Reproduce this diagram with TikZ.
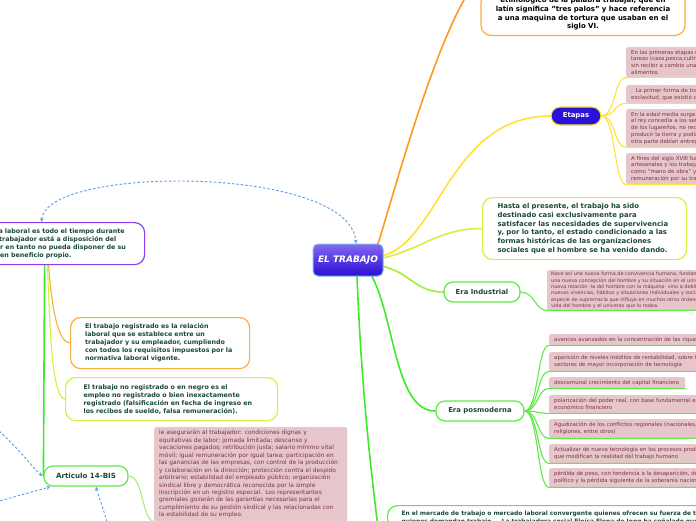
\documentclass[tikz,border=0pt]{standalone}
\usepackage{fontspec}
\setmainfont{DejaVu Sans}
\usetikzlibrary{calc,arrows.meta,backgrounds}
\definecolor{tdark}{HTML}{1B4A36}
\definecolor{pinkf}{HTML}{E6C6CB}
\definecolor{ptext}{HTML}{7A3646}
\definecolor{orng}{HTML}{FF9A1F}
\definecolor{orngb}{HTML}{FAAE3C}
\definecolor{yel}{HTML}{FFE233}
\definecolor{ygr}{HTML}{D2F240}
\definecolor{lime}{HTML}{A2EE3A}
\definecolor{grn}{HTML}{3EEB2A}
\definecolor{grnb}{HTML}{5EEB48}
\definecolor{purp}{HTML}{8B3FF0}
\definecolor{dblue}{HTML}{5A9CEE}
\definecolor{etafill}{HTML}{2B12D9}
\definecolor{ctrtop}{HTML}{8468F2}
\definecolor{ctrbot}{HTML}{2A0FD4}
\definecolor{ctrb}{HTML}{7DB8F0}
\definecolor{lgrn}{HTML}{A8F07A}
\begin{document}
\begin{tikzpicture}[x=1pt,y=-1pt,
 wbox/.style={draw, fill=white, rounded corners=10pt, line width=1.2pt, text=tdark, align=left, anchor=north west, inner ysep=0pt},
 lfont/.style={font=\bfseries\fontsize{6.35}{8}\selectfont},
 rfont/.style={font=\bfseries\fontsize{6.9}{8.7}\selectfont},
 pbox/.style={fill=pinkf, rounded corners=1.5pt, text=ptext, align=left, anchor=north west, inner ysep=0pt, inner xsep=5pt, font=\fontsize{5.4}{6.7}\selectfont},
 pill/.style={draw, fill=white, rounded corners=9pt, line width=1.2pt, text=tdark, font=\bfseries\fontsize{6.9}{8}\selectfont, inner sep=0pt},
 conn/.style={line width=1.6pt, line cap=round},
 subc/.style={line width=1.1pt, line cap=round},
 dsh/.style={dblue, line width=0.9pt, dash pattern=on 2.5pt off 2pt},
 tip/.tip={Stealth[length=4pt,width=3.6pt]},
]
\useasboundingbox (0,0) rectangle (696,520);

% central node
\node[draw=ctrb, line width=1pt, rounded corners=5pt, top color=ctrtop, bottom color=ctrbot,
  minimum width=70pt, minimum height=32pt, text=white, inner sep=0pt,
  font=\bfseries\itshape\fontsize{9}{10}\selectfont] (ctr) at (348,260) {EL TRABAJO};

% top box
\node[draw=orngb, fill=white, rounded corners=10pt, line width=1.2pt, align=center, text=black,
  text width=190pt, inner xsep=7pt, inner ysep=5pt, anchor=south,
  font=\bfseries\fontsize{7}{8.7}\selectfont] (top) at (583,36)
  {etimológico de la palabra trabajar, que en\\latín significa "tres palos" y hace referencia\\a una maquina de tortura que usaban en el\\siglo VI.};
\coordinate (topin) at (481,-25);

% Etapas
\node[pill, draw=yel, fill=etafill, text=white, minimum width=50pt, minimum height=18pt] (eta) at (576,116) {Etapas};
\node[pbox, minimum height=30pt, text width=150pt] (ea) at (626,47)
  {En las primeras etapas de la\\tareas (caza,pesca,cultivo\\sin recibir a cambio una\\alimentos.};
\node[pbox, minimum height=18pt, text width=150pt] (eb) at (626,85)
  {. La primer forma de trabajo\\esclavitud, que existió como};
\node[pbox, minimum height=38pt, text width=150pt] (ec) at (626,109)
  {En la edad media surge\\el rey concedía a los señores\\de los lugareños, no recibían\\producir la tierra y podían\\otra parte debían entregar};
\node[pbox, minimum height=31pt, text width=150pt] (ed) at (626,153)
  {A fines del siglo XVIII fue\\artesanales y los trabajadores\\como "mano de obra" y\\remuneración por su trabajo};

% Hasta
\node[wbox, rfont, draw=ygr, minimum height=62pt, text width=174pt, inner xsep=15pt] (has) at (482,197)
  {Hasta el presente, el trabajo ha sido\\destinado casi exclusivamente para\\satisfacer las necesidades de supervivencia\\y, por lo tanto, el estado condicionado a las\\formas históricas de las organizaciones\\sociales que el hombre se ha venido dando.};

% Era Industrial
\node[pill, draw=grnb, minimum width=76pt, minimum height=20pt] (ind) at (482,292) {Era Industrial};
\node[pbox, minimum height=40pt, text width=220pt, inner xsep=4pt, font=\fontsize{4.9}{6.3}\selectfont] (ip) at (547,270)
  {Nace así una nueva forma de convivencia humana, fundamentada\\una nueva concepción del hombre y su situación en el universo\\nueva relación -la del hombre con la máquina- vino a debilitar\\nuevas vivencias, hábitos y situaciones individuales y sociales\\especie de supremacía que influye en muchos otros órdenes\\vida del hombre y el universo que lo rodea.};

% Era posmoderna
\node[pill, draw=grnb, minimum width=88pt, minimum height=20pt] (pm) at (480,411) {Era posmoderna};
\node[pbox, minimum height=11pt, text width=200pt] (p1) at (549,334)
  {avances avanzados en la concentración de las riquezas};
\node[pbox, minimum height=19pt, text width=200pt] (p2) at (549,352)
  {aparición de niveles inéditos de rentabilidad, sobre todo en\\sectores de mayor incorporación de tecnología};
\node[pbox, minimum height=11pt, text width=126pt] (p3) at (549,377)
  {descomunal crecimiento del capital financiero};
\node[pbox, minimum height=18pt, text width=200pt] (p4) at (549,395)
  {polarización del poder real, con base fundamental en el\\económico financiero};
\node[pbox, minimum height=19pt, text width=200pt] (p5) at (549,419)
  {Agudización de los conflictos regionales (nacionales,\\religiones, entre otros)};
\node[pbox, minimum height=19pt, text width=200pt] (p6) at (549,444)
  {Actualizar de nueva tecnología en los procesos productivos\\que modifican la realidad del trabajo humano};
\node[pbox, minimum height=19pt, text width=200pt] (p7) at (549,468)
  {pérdida de peso, con tendencia a la desaparición, del\\político y la pérdida siguiente de la soberanía nacional};

% bottom box
\node[wbox, draw=grnb, text width=400pt, inner xsep=14pt, inner ysep=5pt,
  font=\bfseries\fontsize{5.95}{8}\selectfont] (bot) at (387,505)
  {En el mercado de trabajo o mercado laboral convergente quienes ofrecen su fuerza de trabajo y\\quienes demandan trabajo. . La trabajadora social Eloísa Elena de Jong ha señalado que};
\coordinate (botin) at (382,560);

% left side
\node[wbox, lfont, draw=purp, minimum height=42pt, text width=163pt, inner xsep=16.5pt] (jor) at (-52,222)
  {La jornada laboral es todo el tiempo durante\\el cual el trabajador está a disposición del\\empleador en tanto no pueda disponer de su\\actividad en beneficio propio.};
\node[wbox, lfont, draw=orngb, minimum height=51pt, text width=150pt, inner xsep=14.5pt] (reg) at (70,317)
  {El trabajo registrado es la relación\\laboral que se establece entre un\\trabajador y su empleador, cumpliendo\\con todos los requisitos impuestos por la\\normativa laboral vigente.};
\node[wbox, lfont, draw=ygr, minimum height=43pt, text width=176pt, inner xsep=18pt] (nreg) at (65,377)
  {El trabajo no registrado o en negro es el\\empleo no registrado o bien inexactamente\\registrado (falsificación en fecha de ingreso en\\los recibos de sueldo, falsa remuneración).};
\node[pill, draw=grnb, minimum width=84pt, minimum height=20pt, font=\bfseries\fontsize{7.1}{8}\selectfont] (art) at (86,476) {Articulo 14-BIS};
\node[pbox, text width=183pt, inner ysep=3pt, font=\fontsize{5.9}{7.45}\selectfont] (ap) at (154,427)
  {le asegurarán al trabajador: condiciones dignas y\\equitativas de labor; jornada limitada; descanso y\\vacaciones pagados; retribución justa; salario mínimo vital\\móvil; igual remuneración por igual tarea; participación en\\las ganancias de las empresas, con control de la producción\\y colaboración en la dirección; protección contra el despido\\arbitrario; estabilidad del empleado público; organización\\sindical libre y democrática reconocida por la simple\\inscripción en un registro especial. Los representantes\\gremiales gozarán de las garantías necesarias para el\\cumplimiento de su gestión sindical y las relacionadas con\\la estabilidad de su empleo.};

\coordinate (s1) at (-4,428);
\coordinate (s2) at (-4,502);
\coordinate (s3) at (108,526);

% connectors behind nodes
\begin{scope}[on background layer]
 \fill[white] (0,0) rectangle (696,520);
 \draw[conn, orng] ($(ctr.north east)+(-6,2)$) .. controls (395,190) and (440,20) .. (topin);
 \draw[conn, yel] ($(ctr.east)+(-1,-4)$) .. controls (440,240) and (450,116) .. (eta.west);
 \draw[conn, ygr] ($(ctr.east)+(-1,-2)$) .. controls (420,250) and (440,228) .. (has.west);
 \draw[conn, lime] ($(ctr.east)+(-2,6)$) .. controls (410,272) and (415,292) .. (ind.west);
 \draw[conn, grn] ($(ctr.south)+(24,0)$) .. controls (395,320) and (395,411) .. (pm.west);
 \draw[conn, grn] ($(ctr.south)+(9,0)$) .. controls (362,400) and (372,480) .. (botin);
 \draw[conn, grn] ($(jor.south)+(-2,0)$) -- (art.west);
 \draw[subc, orngb] ($(jor.south)+(2,0)$) .. controls (52,310) and (58,342) .. (reg.west);
 \draw[subc, ygr] ($(jor.south)+(1,0)$) .. controls (50,350) and (54,398) .. (nreg.west);
\end{scope}

% sub connectors to pink boxes
\foreach \b in {ea,eb,ec,ed}{
 \draw[subc, yel] (eta.east) .. controls +(14,0) and +(-12,0) .. (\b.south west) -- (\b.south east);
}
\draw[subc, grnb] (ind.east) .. controls +(14,0) and +(-12,0) .. (ip.south west) -- (ip.south east);
\foreach \b in {p1,p2,p3,p4,p5,p6,p7}{
 \draw[subc, grnb] (pm.east) .. controls +(14,0) and +(-12,0) .. (\b.south west) -- (\b.south east);
}
\draw[subc, lgrn] (art.east) .. controls +(15,0) and +(-12,0) .. (ap.south west);

% dashed relations
\draw[dsh, tip-tip] ($(jor.north)+(-5,0)$) .. controls (45,165) and (350,165) .. ($(ctr.north)+(8,0)$);
\draw[dsh, -tip] (s1) .. controls (20,450) and (35,470) .. ($(art.west)+(-1,0)$);
\draw[dsh, -tip] (s2) .. controls (20,495) and (40,490) .. ($(art.south west)+(7,0)$);
\draw[dsh, -tip] (s3) .. controls (104,510) and (98,495) .. ($(art.south)+(10,0)$);
\end{tikzpicture}
\end{document}
